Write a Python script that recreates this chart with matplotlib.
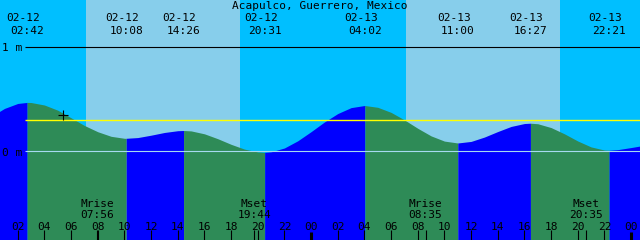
import numpy as np
import matplotlib
matplotlib.use("Agg")
import matplotlib.pyplot as plt
from matplotlib import transforms

# Chart window: 48 hours starting 02-12 00:40
start_day, start_time = 12, "00:40"
span_hours = 48

# Tide events (high/low), heights in metres
tide_dates = ["02-12", "02-12", "02-12", "02-12", "02-13", "02-13", "02-13", "02-13"]
tide_times = ["02:42", "10:08", "14:26", "20:31", "04:02", "11:00", "16:27", "22:21"]
tide_heights = [0.47, 0.125, 0.20, -0.01, 0.44, 0.08, 0.27, 0.01]

# Water level read hourly from 02-12 00:00
level_hours = list(range(50))
level = [0.334, 0.412, 0.460, 0.469, 0.445, 0.395, 0.322, 0.248, 0.188, 0.144,
         0.125, 0.132, 0.155, 0.181, 0.198, 0.196, 0.168, 0.121, 0.067, 0.021,
         -0.006, -0.005, 0.032, 0.101, 0.189, 0.282, 0.363, 0.420, 0.440, 0.423,
         0.374, 0.302, 0.221, 0.148, 0.098, 0.080, 0.095, 0.137, 0.190, 0.239,
         0.267, 0.265, 0.228, 0.168, 0.099, 0.042, 0.012, 0.016, 0.036, 0.058]

# Sun and moon
sunrise = ["02-12 07:07", "02-13 07:07"]
sunset = ["02-12 18:40", "02-13 18:40"]
moon_names = ["Mrise", "Mset", "Mrise", "Mset"]
moon_times = ["02-12 07:56", "02-12 19:44", "02-13 08:35", "02-13 20:35"]

msl = 0.298
now_time, now_level = "02-12 05:25", 0.35


def to_hours(stamp):
    date, hm = stamp.split()
    hh, mm = hm.split(":")
    return (int(date.split("-")[1]) - start_day) * 24 + int(hh) + int(mm) / 60


t0 = to_hours("02-%02d %s" % (start_day, start_time))
t1 = t0 + span_hours
ev_t = [to_hours(d + " " + t) for d, t in zip(tide_dates, tide_times)]

W, H = 640, 240
zero_px, metre_px = 151.3, 104.0
ylo = (zero_px - H) / metre_px
yhi = zero_px / metre_px

fig = plt.figure(figsize=(6.4, 2.4), dpi=100)
ax = fig.add_axes([0, 0, 1, 1])
ax.set_xlim(t0, t1)
ax.set_ylim(ylo, yhi)
ax.axis("off")

night, day = "#00BFFF", "#87CEEB"
flood, ebb = "#0000FF", "#2E8B57"

ax.axvspan(t0, t1, color=night, lw=0)
for r, s in zip(sunrise, sunset):
    ax.axvspan(to_hours(r), to_hours(s), color=day, lw=0)

# merge hourly readings with the tide events, fill each rise/fall in its colour
t_all = np.array(level_hours + ev_t, dtype=float)
h_all = np.array(level + tide_heights, dtype=float)
order = np.argsort(t_all)
t_all, h_all = t_all[order], h_all[order]
bounds = [t_all[0]] + ev_t + [t_all[-1]]
for i in range(len(bounds) - 1):
    m = (t_all >= bounds[i]) & (t_all <= bounds[i + 1])
    rising = h_all[m][-1] > h_all[m][0]
    ax.fill_between(t_all[m], ylo, h_all[m], color=flood if rising else ebb,
                    lw=0, antialiased=True)

px_t = span_hours / W
x_line = t0 + 25 * px_t
ax.hlines(1.0, x_line, t1, color="black", lw=0.8)
ax.hlines(0.0, x_line, t1, color="#A6DAF0", lw=0.8)
ax.hlines(msl, x_line, t1, color="yellow", lw=1.0)

ax.plot([to_hours(now_time)], [now_level], marker="+", color="black",
        markersize=7, markeredgewidth=0.8)

tr = transforms.blended_transform_factory(ax.transData, ax.transAxes)
font = dict(family="DejaVu Sans Mono", fontsize=8.0, color="black", va="baseline")


def fy(py):
    return 1 - py / H


fig.text(0.5, fy(9.3), "Acapulco, Guerrero, Mexico", ha="center", **font)
fig.text(2.5 / W, fy(51), "1 m", ha="left", **font)
fig.text(2.5 / W, fy(155.5), "0 m", ha="left", **font)

for d, tm, t in zip(tide_dates, tide_times, ev_t):
    ax.text(t - 4 * px_t, fy(21), d, transform=tr, ha="center", **font)
    ax.text(t, fy(34), tm, transform=tr, ha="center", **font)

for name, stamp in zip(moon_names, moon_times):
    t = to_hours(stamp)
    ax.text(t, fy(206.7), name, transform=tr, ha="center", **font)
    ax.text(t, fy(218.5), stamp.split()[1], transform=tr, ha="center", **font)
    ax.vlines(t, 0, fy(230), transform=tr, color="black", lw=0.8)

for hr in range(2, span_hours + 1, 2):
    ax.text(hr, fy(230), "%02d" % (hr % 24), transform=tr, ha="center", **font)
    if hr % 24 == 0:
        ax.vlines(hr, 0, fy(232), transform=tr, color="black", lw=2.2)
    else:
        ax.vlines(hr, 0, fy(230), transform=tr, color="black", lw=0.8)

fig.savefig("out.png", dpi=100)
